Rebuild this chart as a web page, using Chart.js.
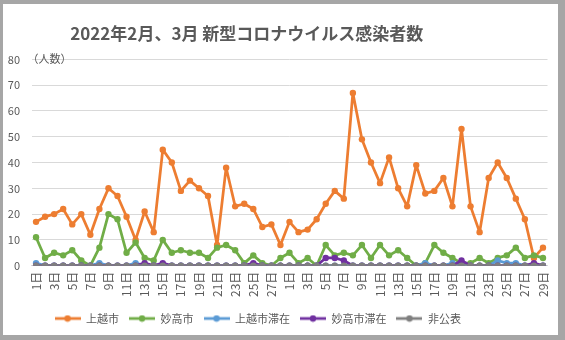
<!DOCTYPE html>
<html>
<head>
<meta charset="utf-8">
<script src="https://cdn.jsdelivr.net/npm/chart.js@4.4.1/dist/chart.umd.min.js"></script>
<style>
  html, body { margin: 0; padding: 0; background: #a6a6a6; }
  #frame { position: absolute; left: 3px; top: 4px; width: 555px; height: 331px; background: #fff; }
</style>
</head>
<body>
<div id="frame"><canvas id="chart"></canvas></div>
<script>
// ===== Data =====
const febDays = ['1日','2日','3日','4日','5日','6日','7日','8日','9日','10日','11日','12日','13日','14日',
  '15日','16日','17日','18日','19日','20日','21日','22日','23日','24日','25日','26日','27日','28日'];
const marDays = ['1日','2日','3日','4日','5日','6日','7日','8日','9日','10日','11日','12日','13日','14日',
  '15日','16日','17日','18日','19日','20日','21日','22日','23日','24日','25日','26日','27日','28日','29日'];
const dayLabels = febDays.concat(marDays);

const joetsu = [17,19,20,22,16,20,12,22,30,27,19,10,21,13,45,40,29,33,30,27,8,38,23,24,22,15,16,8,
  17,13,14,18,24,29,26,67,49,40,32,42,30,23,39,28,29,34,23,53,23,13,34,40,34,26,18,3,7];
const myoko = [11,3,5,4,6,2,0,7,20,18,5,9,3,2,10,5,6,5,5,3,7,8,6,1,4,1,0,3,
  5,1,3,0,8,4,5,4,8,3,8,4,6,3,0,1,8,5,3,1,1,3,1,3,4,7,3,4,3];
const joetsuStay = [1,0,0,0,0,0,0,1,0,0,0,1,0,0,0,0,0,0,0,0,0,0,0,0,0,0,0,0,
  0,0,0,0,0,0,0,0,0,0,0,0,0,0,0,1,0,0,1,0,0,0,0,2,1,1,0,0,0];
const myokoStay = [0,0,0,0,0,0,0,0,0,0,0,0,1,0,1,0,0,0,0,0,0,0,0,0,1,0,0,0,
  0,0,0,0,3,3,2,0,0,0,0,0,0,0,0,0,0,0,0,2,0,0,0,0,0,0,0,1,0];
const undisclosed = [0,0,0,0,0,0,0,0,0,0,0,0,0,0,0,0,0,0,0,0,0,0,0,0,0,0,0,0,
  0,0,0,0,0,0,0,0,0,0,0,0,0,0,0,0,0,0,0,0,0,0,0,0,0,0,0,0,0];

const seriesNames = ['上越市', '妙高市', '上越市滞在', '妙高市滞在', '非公表'];
const seriesColors = ['#ED7D31', '#70AD47', '#5B9BD5', '#7030A0', '#7F7F7F'];
const seriesData = [joetsu, myoko, joetsuStay, myokoStay, undisclosed];
const yTicks = [0, 10, 20, 30, 40, 50, 60, 70, 80];

const FONT = '"Noto Sans CJK JP", "Noto Sans", sans-serif';
const TEXT = '#595959';

// legend swatch: short line with a dot in the middle
const legendIcon = (color) => {
    const c = document.createElement('canvas');
    c.width = 26; c.height = 8;
    const g = c.getContext('2d');
    g.strokeStyle = color; g.lineWidth = 2.75;
    g.beginPath(); g.moveTo(0, 4); g.lineTo(26, 4); g.stroke();
    g.fillStyle = color;
    g.beginPath(); g.arc(13, 4, 3.2, 0, Math.PI * 2); g.fill();
    return c;
};
const icons = seriesColors.map(legendIcon);

const datasets = seriesNames.map((name, i) => ({
    label: name,
    data: seriesData[i],
    borderColor: seriesColors[i],
    backgroundColor: seriesColors[i],
    borderWidth: 2.75,
    borderJoinStyle: 'round',
    borderCapStyle: 'round',
    pointRadius: 3.2,
    pointHoverRadius: 3.2,
    pointBorderWidth: 0,
    tension: 0,
    order: seriesNames.length - i // last series on top, like Excel
}));

// ===== Plugins =====
const unitLabel = {
    id: 'unitLabel',
    afterDraw(chart) {
        const { ctx, chartArea, scales } = chart;
        ctx.save();
        ctx.font = '11px ' + FONT;
        ctx.fillStyle = TEXT;
        ctx.textBaseline = 'middle';
        ctx.fillText('（人数）', chartArea.left - 4, scales.y.getPixelForValue(80) - 1);
        ctx.restore();
    }
};

const shiftBoxes = {
    id: 'shiftBoxes',
    afterLayout(chart) {
        chart.titleBlock.left -= 30; chart.titleBlock.right -= 30;
        chart.legend.left -= 19; chart.legend.right -= 19;
    }
};

new Chart(document.getElementById('chart'), {
    type: 'line',
    data: { labels: dayLabels, datasets },
    plugins: [unitLabel, shiftBoxes],
    options: {
        responsive: true,
        maintainAspectRatio: false,
        animation: false,
        layout: { padding: { left: 3, right: 10.5, top: 0, bottom: 1 } },
        plugins: {
            title: {
                display: true,
                text: '2022年2月、3月 新型コロナウイルス感染者数',
                color: TEXT,
                font: { family: FONT, size: 17, weight: 'bold' },
                padding: { top: 19, bottom: 16 }
            },
            legend: {
                position: 'bottom',
                labels: {
                    color: TEXT,
                    font: { family: FONT, size: 11 },
                    usePointStyle: true,
                    pointStyleWidth: 26,
                    boxHeight: 8,
                    padding: 10,
                    generateLabels: (chart) => {
                        const items = Chart.defaults.plugins.legend.labels.generateLabels(chart);
                        items.sort((a, b) => a.datasetIndex - b.datasetIndex);
                        items.forEach(it => { it.pointStyle = icons[it.datasetIndex]; });
                        return items;
                    }
                }
            },
            tooltip: { enabled: false }
        },
        scales: {
            x: {
                offset: true,
                afterFit: (axis) => { axis.paddingLeft = 0; axis.paddingRight = 0; },
                grid: { display: false, drawTicks: false },
                border: { color: '#d9d9d9' },
                ticks: {
                    autoSkip: false,
                    minRotation: 90,
                    maxRotation: 90,
                    padding: 6,
                    color: TEXT,
                    font: { family: FONT, size: 12 },
                    callback: (v, i) => (i % 2 === 0 ? dayLabels[i] : '')
                }
            },
            y: {
                min: 0,
                max: 80,
                afterBuildTicks: (axis) => { axis.ticks = yTicks.map(v => ({ value: v })); },
                afterFit: (axis) => { axis.width = 25.5; },
                grid: { color: '#d9d9d9', drawTicks: false },
                border: { display: false },
                ticks: {
                    padding: 11.5,
                    color: TEXT,
                    font: { family: FONT, size: 11 }
                }
            }
        }
    }
});
</script>
</body>
</html>
